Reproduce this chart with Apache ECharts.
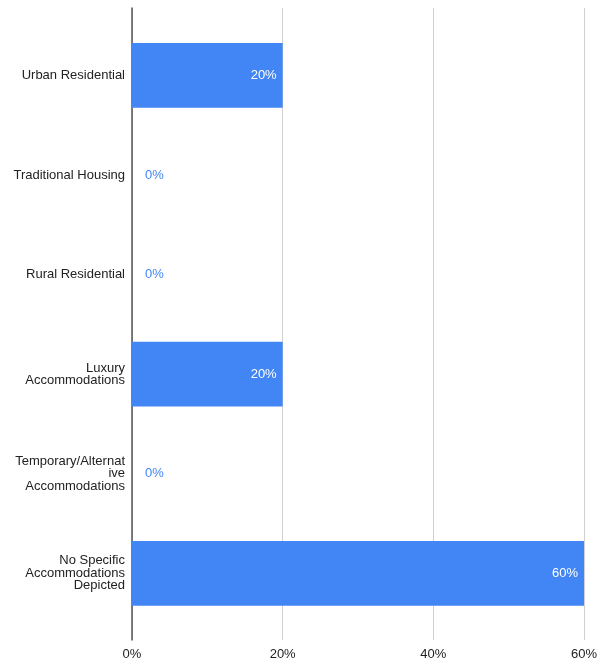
<!DOCTYPE html>
<html>
<head>
<meta charset="utf-8">
<script src="https://cdn.jsdelivr.net/npm/echarts@6/dist/echarts.min.js"></script>
<style>
  html, body { margin: 0; padding: 0; background: #fff; }
  #chart { width: 600px; height: 664px; }
</style>
</head>
<body>
<div id="chart"></div>
<script>
// Share of depictions by accommodation type
const categories = [
  'Urban Residential',
  'Traditional Housing',
  'Rural Residential',
  'Luxury Accommodations',
  'Temporary/Alternative Accommodations',
  'No Specific Accommodations Depicted'
];
const shares = [20, 0, 0, 20, 0, 60];
const xTicks = [0, 20, 40, 60];

const barColor = '#4285f4';
const font = 'Liberation Sans, Arial, Helvetica, sans-serif';
const labelSize = 13;
const labelMaxWidth = 112;

// Word wrap that splits over-long words by character, like a spreadsheet chart does
const measureCtx = document.createElement('canvas').getContext('2d');
measureCtx.font = labelSize + 'px ' + font;
const textWidth = s => measureCtx.measureText(s).width;
function wrapLabel(text) {
  const lines = [];
  let line = '';
  text.split(' ').forEach(word => {
    const candidate = line ? line + ' ' + word : word;
    if (textWidth(candidate) <= labelMaxWidth) { line = candidate; return; }
    if (line) { lines.push(line); line = ''; }
    let piece = '';
    for (const ch of word) {
      if (textWidth(piece + ch) > labelMaxWidth && piece) { lines.push(piece); piece = ch; }
      else piece += ch;
    }
    line = piece;
  });
  if (line) lines.push(line);
  return lines.join('\n');
}

const chart = echarts.init(document.getElementById('chart'), null, { renderer: 'canvas' });

chart.setOption({
  animation: false,
  grid: [
    // bars
    { left: 132, right: 16, top: 25.7, bottom: 40.9 },
    // frame: gridlines, left axis line and percent labels
    { left: 132, right: 16, top: 8, bottom: 24 }
  ],
  xAxis: [
    {
      gridIndex: 0, type: 'value', min: xTicks[0], max: xTicks[xTicks.length - 1], interval: 20,
      show: false
    },
    {
      gridIndex: 1, type: 'value', min: xTicks[0], max: xTicks[xTicks.length - 1], interval: 20,
      axisLine: { show: false },
      axisTick: { show: false },
      splitLine: { show: true, lineStyle: { color: '#d0d0d0', width: 1 } },
      axisLabel: {
        formatter: v => v + '%',
        color: '#222', fontSize: labelSize, fontFamily: font, margin: 8
      }
    }
  ],
  yAxis: [
    {
      gridIndex: 0, type: 'category', data: categories, inverse: true,
      axisLine: { show: false },
      axisTick: { show: false },
      splitLine: { show: false },
      axisLabel: {
        color: '#222', fontSize: labelSize, fontFamily: font, margin: 7,
        lineHeight: 12.5, align: 'right',
        formatter: wrapLabel
      }
    },
    {
      gridIndex: 1, type: 'value', min: 0, max: 1,
      axisLine: { show: true, lineStyle: { color: '#555', width: 1.5 } },
      axisTick: { show: false },
      axisLabel: { show: false },
      splitLine: { show: false }
    }
  ],
  series: [
    {
      type: 'bar',
      xAxisIndex: 0, yAxisIndex: 0,
      barCategoryGap: '35%',
      z: 3,
      data: shares.map(v => ({
        value: v,
        label: v > 0
          ? { show: true, position: 'insideRight', distance: 6, color: '#fff' }
          : { show: true, position: 'right', distance: 13, color: barColor }
      })),
      itemStyle: { color: barColor },
      label: {
        show: true, fontSize: labelSize, fontFamily: font,
        formatter: p => p.value + '%'
      }
    }
  ]
});
</script>
</body>
</html>
